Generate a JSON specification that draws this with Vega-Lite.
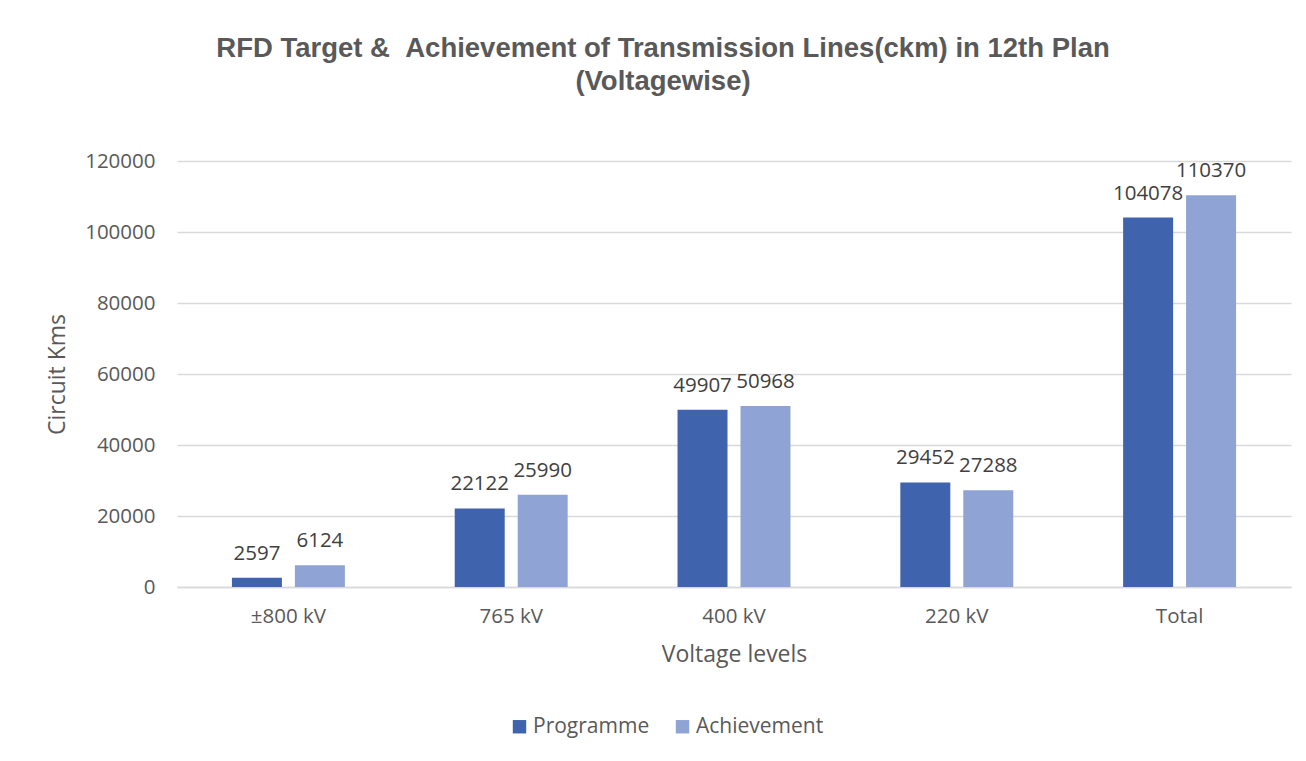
{
  "$schema": "https://vega.github.io/schema/vega-lite/v6.json",
  "width": 1114,
  "height": 426,
  "autosize": {"type": "none"},
  "padding": {"left": 177, "top": 161, "right": 15, "bottom": 174},
  "background": "white",
  "config": {"view": {"stroke": null}},
  "title": {
    "text": ["RFD Target & \u00a0Achievement of Transmission Lines(ckm) in 12th Plan", "(Voltagewise)"],
    "font": "Liberation Sans",
    "fontSize": 27.5,
    "fontWeight": "bold",
    "color": "#595959",
    "lineHeight": 33,
    "anchor": "middle",
    "dx": -71,
    "offset": 56
  },
  "data": {
    "values": [
      {"level": "±800 kV", "series": "Programme", "value": 2597},
      {"level": "±800 kV", "series": "Achievement", "value": 6124},
      {"level": "765 kV", "series": "Programme", "value": 22122},
      {"level": "765 kV", "series": "Achievement", "value": 25990},
      {"level": "400 kV", "series": "Programme", "value": 49907},
      {"level": "400 kV", "series": "Achievement", "value": 50968},
      {"level": "220 kV", "series": "Programme", "value": 29452},
      {"level": "220 kV", "series": "Achievement", "value": 27288},
      {"level": "Total", "series": "Programme", "value": 104078},
      {"level": "Total", "series": "Achievement", "value": 110370}
    ]
  },
  "encoding": {
    "x": {
      "field": "level",
      "type": "nominal",
      "sort": ["±800 kV", "765 kV", "400 kV", "220 kV", "Total"],
      "scale": {"paddingInner": 0.493, "paddingOuter": 0.2465},
      "axis": {
        "title": "Voltage levels",
        "labelAngle": 0,
        "labelFont": "Open Sans",
        "labelFontSize": 20.5,
        "labelColor": "#595959",
        "labelPadding": 19,
        "titleFont": "Open Sans",
        "titleFontSize": 23,
        "titleFontWeight": "normal",
        "titleColor": "#595959",
        "titlePadding": 17,
        "ticks": false,
        "domainColor": "#d9d9d9",
        "domainWidth": 1.5
      }
    },
    "xOffset": {
      "field": "series",
      "type": "nominal",
      "sort": ["Programme", "Achievement"],
      "scale": {"paddingInner": 0.206, "paddingOuter": 0}
    },
    "y": {
      "field": "value",
      "type": "quantitative",
      "scale": {"domain": [0, 120000], "nice": false},
      "axis": {
        "title": "Circuit Kms",
        "values": [0, 20000, 40000, 60000, 80000, 100000, 120000],
        "format": "d",
        "labelFont": "Open Sans",
        "labelFontSize": 20.5,
        "labelColor": "#595959",
        "labelPadding": 22,
        "titleFont": "Open Sans",
        "titleFontSize": 23,
        "titleFontWeight": "normal",
        "titleColor": "#595959",
        "titlePadding": 15,
        "ticks": false,
        "domain": false,
        "gridColor": "#d9d9d9",
        "gridWidth": 1.5
      }
    }
  },
  "layer": [
    {
      "mark": {"type": "bar"},
      "encoding": {
        "color": {
          "field": "series",
          "type": "nominal",
          "sort": ["Programme", "Achievement"],
          "scale": {"domain": ["Programme", "Achievement"], "range": ["#3F63AD", "#8FA4D4"]},
          "legend": {
            "title": null,
            "orient": "none",
            "direction": "horizontal",
            "legendX": 332,
            "legendY": 555,
            "symbolType": "square",
            "symbolSize": 180,
            "symbolStrokeWidth": 0,
            "labelFont": "Open Sans",
            "labelFontSize": 21,
            "labelColor": "#595959",
            "columnPadding": 22,
            "labelOffset": 3
          }
        }
      }
    },
    {
      "mark": {"type": "text", "baseline": "bottom", "dy": -14, "font": "Open Sans", "fontSize": 20.5, "color": "#404040"},
      "encoding": {
        "text": {"field": "value", "type": "quantitative", "format": "d"}
      }
    }
  ]
}
